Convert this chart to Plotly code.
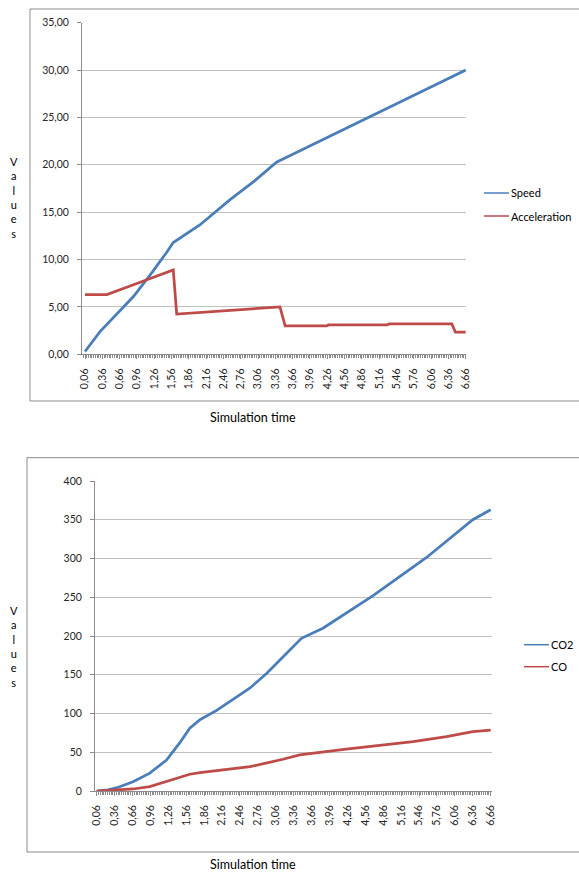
import plotly.graph_objects as go

# ---- data: vehicle dynamics ----
speed_t = [0.06, 0.32, 0.90, 1.23, 1.48, 1.59, 2.05, 2.57, 3.00, 3.38, 3.44,
           3.90, 4.50, 4.97, 5.50, 6.00, 6.36, 6.66]
speed_v = [0.3, 2.4, 6.1, 8.7, 10.8, 11.8, 13.65, 16.3, 18.3, 20.27, 20.45,
           21.8, 23.6, 25.0, 26.5, 28.0, 29.1, 30.0]

accel_t = [0.06, 0.44, 0.90, 1.26, 1.59, 1.65, 2.20, 2.80, 3.44, 3.53, 4.25,
           4.28, 5.30, 5.33, 6.42, 6.48, 6.66]
accel_v = [6.3, 6.3, 7.34, 8.15, 8.9, 4.25, 4.5, 4.75, 5.0, 3.0, 3.0,
           3.1, 3.1, 3.2, 3.2, 2.35, 2.35]

# ---- data: emissions ----
co2_t = [0.06, 0.25, 0.40, 0.67, 0.95, 1.23, 1.45, 1.62, 1.79, 2.07, 2.63,
         2.91, 3.18, 3.49, 3.85, 4.69, 5.58, 6.36, 6.66]
co2_v = [0, 1.5, 4.3, 12, 23, 40, 62, 81, 92, 104, 133,
         152, 173, 197, 210, 252, 301, 350, 363]

co_t = [0.06, 0.40, 0.67, 0.95, 1.23, 1.45, 1.62, 1.79, 2.63, 3.18, 3.46,
        4.24, 5.36, 5.92, 6.36, 6.66]
co_v = [0, 1, 2.6, 5.6, 12, 17, 21.6, 23.7, 31.4, 41, 46.5,
        53.9, 63.8, 70.2, 76.5, 78.5]

# ---- axis ticks ----
time_ticks = [0.06, 0.36, 0.66, 0.96, 1.26, 1.56, 1.86, 2.16, 2.46, 2.76, 3.06,
              3.36, 3.66, 3.96, 4.26, 4.56, 4.86, 5.16, 5.46, 5.76, 6.06, 6.36, 6.66]
time_labels = ["0,06", "0,36", "0,66", "0,96", "1,26", "1,56", "1,86", "2,16",
               "2,46", "2,76", "3,06", "3,36", "3,66", "3,96", "4,26", "4,56",
               "4,86", "5,16", "5,46", "5,76", "6,06", "6,36", "6,66"]
dyn_ticks = [0, 5, 10, 15, 20, 25, 30, 35]
dyn_labels = ["0,00", "5,00", "10,00", "15,00", "20,00", "25,00", "30,00", "35,00"]
em_ticks = [0, 50, 100, 150, 200, 250, 300, 350, 400]
em_labels = ["0", "50", "100", "150", "200", "250", "300", "350", "400"]

W, H = 579, 872
BLUE = "#4A7EBB"
RED = "#BE4B48"
GRID = "#BFBFBF"
AXIS = "#8C8C8C"
FONT = "Lato"
TXT = "#262626"


def fx(p):
    return p / W


def fy(p):
    return 1 - p / H


fig = go.Figure()

fig.add_trace(go.Scatter(x=speed_t, y=speed_v, mode="lines", name="Speed",
                         line=dict(color=BLUE, width=2.75), xaxis="x", yaxis="y"))
fig.add_trace(go.Scatter(x=accel_t, y=accel_v, mode="lines", name="Acceleration",
                         line=dict(color=RED, width=2.75), xaxis="x", yaxis="y"))
fig.add_trace(go.Scatter(x=co2_t, y=co2_v, mode="lines", name="CO2",
                         line=dict(color=BLUE, width=2.75), xaxis="x2", yaxis="y2"))
fig.add_trace(go.Scatter(x=co_t, y=co_v, mode="lines", name="CO",
                         line=dict(color=RED, width=2.75), xaxis="x2", yaxis="y2"))

common_x = dict(
    tickmode="array", tickvals=time_ticks, ticktext=time_labels, tickangle=-90,
    ticks="outside", ticklen=4, tickcolor=AXIS, showline=True, linecolor=AXIS,
    linewidth=1, showgrid=False, zeroline=False, ticklabelstandoff=5,
    automargin=False,
    tickfont=dict(family=FONT, size=10.5, color=TXT),
    minor=dict(tickmode="linear", tick0=0.06, dtick=0.03, ticks="outside",
               ticklen=3, tickcolor=AXIS, showgrid=False),
)
common_y = dict(
    tickmode="array", ticks="outside", ticklen=4, tickcolor=AXIS, showline=True,
    linecolor=AXIS, linewidth=1, showgrid=True, gridcolor=GRID, gridwidth=1,
    zeroline=False, ticklabelstandoff=6, automargin=False,
    tickfont=dict(family=FONT, size=10.5, color=TXT),
)

fig.update_layout(
    width=W, height=H, margin=dict(l=0, r=0, t=0, b=0, autoexpand=False),
    paper_bgcolor="white", plot_bgcolor="white", showlegend=False,
    xaxis=dict(domain=[fx(82), fx(466)], range=[0.008, 6.665], anchor="y", **common_x),
    yaxis=dict(domain=[fy(354.3), fy(22.7)], range=[0, 35], anchor="x",
               tickvals=dyn_ticks, ticktext=dyn_labels, **common_y),
    xaxis2=dict(domain=[fx(95), fx(492)], range=[0.032, 6.682], anchor="y2", **common_x),
    yaxis2=dict(domain=[fy(791), fy(481)], range=[0, 400], anchor="x2",
                tickvals=em_ticks, ticktext=em_labels, **common_y),
)

# chart frames
fig.add_shape(type="rect", xref="paper", yref="paper",
              x0=fx(30), x1=fx(600), y0=fy(401), y1=fy(9),
              line=dict(color=AXIS, width=1), layer="below")
fig.add_shape(type="rect", xref="paper", yref="paper",
              x0=fx(27), x1=fx(600), y0=fy(852), y1=fy(457.7),
              line=dict(color=AXIS, width=1), layer="below")

# legends: key line + series name
legend_rows = [
    (fig.data[0].name, BLUE, 484, 193),
    (fig.data[1].name, RED, 484, 216),
    (fig.data[2].name, BLUE, 524, 644.7),
    (fig.data[3].name, RED, 524, 666.7),
]
for name, col, lx, ly in legend_rows:
    fig.add_shape(type="line", xref="paper", yref="paper",
                  x0=fx(lx), x1=fx(lx + 25), y0=fy(ly), y1=fy(ly),
                  line=dict(color=col, width=1.5))
    fig.add_annotation(text=name, xref="paper", yref="paper",
                       x=fx(lx + 25), y=fy(ly), xanchor="left", yanchor="middle",
                       showarrow=False, font=dict(family=FONT, size=11, color="#000"))

# axis titles
stacked = "V<br>a<br>l<br>u<br>e<br>s"
for cy in (197, 646):
    fig.add_annotation(text=stacked, xref="paper", yref="paper", x=fx(14), y=fy(cy),
                       xanchor="center", yanchor="middle", showarrow=False,
                       align="center", font=dict(family=FONT, size=11, color="#000"))
for cy in (418, 864):
    fig.add_annotation(text="Simulation time", xref="paper", yref="paper",
                       x=fx(253), y=fy(cy), xanchor="center", yanchor="middle",
                       showarrow=False, borderpad=0,
                       font=dict(family=FONT, size=12.5, color="#000"))

fig.write_html("out.html")
